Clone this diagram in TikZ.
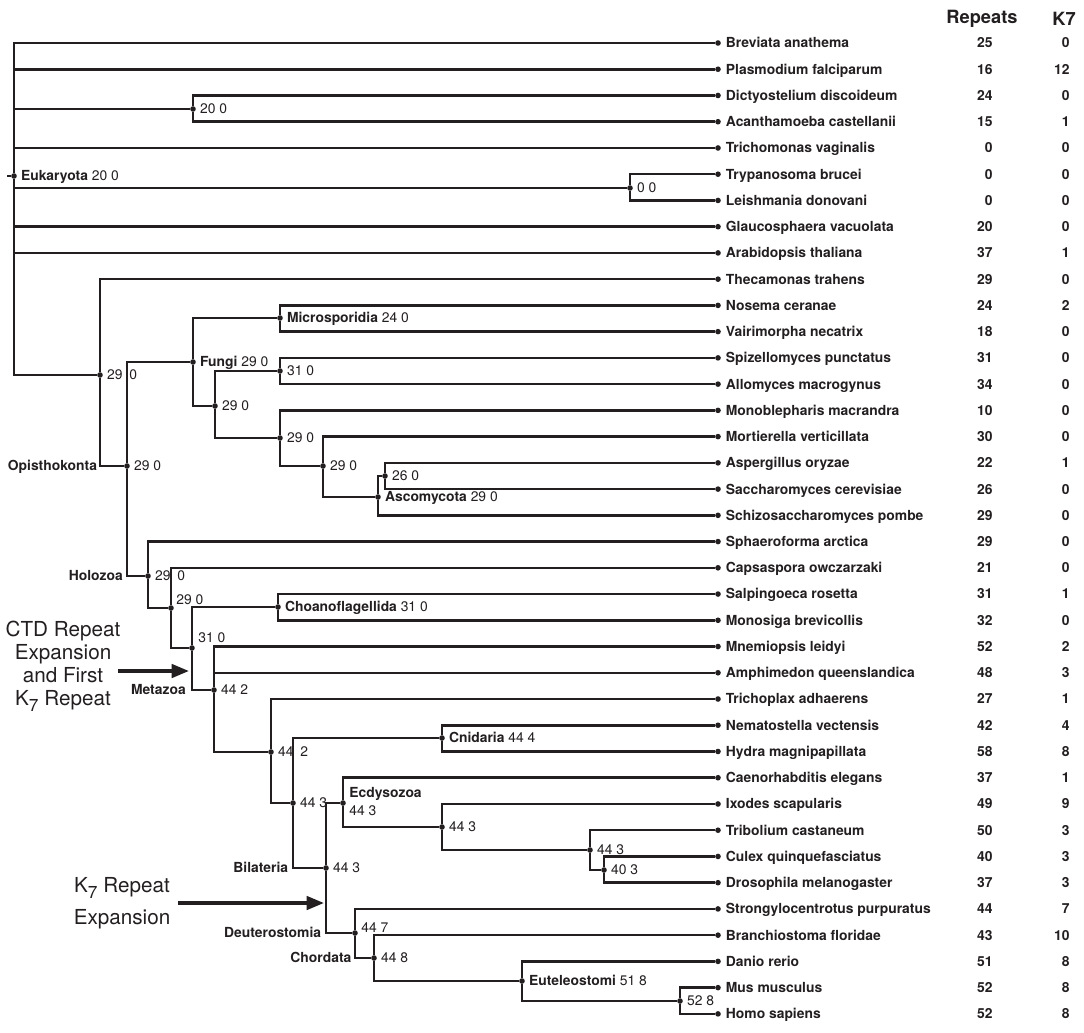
\documentclass[tikz,border=0pt]{standalone}
\usepackage{fontspec}
\setmainfont{TeX Gyre Heros}
\usetikzlibrary{positioning,arrows.meta}
\definecolor{ink}{HTML}{231F20}

\newcommand{\ksub}{K\raisebox{-0.55ex}{\fontsize{13}{13}\selectfont 7}}

\tikzset{
  branch/.style={line width=1.9pt, draw=ink},
  dot/.style={circle, fill=ink, inner sep=0pt, minimum size=4.2pt, outer sep=0pt},
  txt/.style={inner sep=0.5pt, text=ink, font=\fontsize{10.4}{13.5}\selectfont},
  lab/.style={txt, text height=7.4pt, text depth=0pt, anchor=west},
  clade/.style={lab, font=\fontsize{10.4}{13.5}\selectfont\bfseries},
  head/.style={txt, font=\fontsize{13.7}{16}\selectfont\bfseries},
  note/.style={text=ink, align=center, font=\fontsize{15.5}{17.25}\selectfont},
  bigarrow/.style={line width=2.6pt, draw=ink, -{Triangle[length=13pt,width=10pt]}},
}

\begin{document}
\begin{tikzpicture}[x=0.75pt,y=-0.75pt]
\useasboundingbox (0,0) rectangle (1084,1032);

% column heads
\node[head] (hrep) at (982,19) {Repeats};
\node[head] (hk7) at (1064,19) {K7};

% leaves
\foreach \nm/\rp/\kk [count=\i] in {Breviata anathema/25/0, Plasmodium falciparum/16/12,
  Dictyostelium discoideum/24/0, Acanthamoeba castellanii/15/1, Trichomonas vaginalis/0/0,
  Trypanosoma brucei/0/0, Leishmania donovani/0/0, Glaucosphaera vacuolata/20/0,
  Arabidopsis thaliana/37/1, Thecamonas trahens/29/0, Nosema ceranae/24/2,
  Vairimorpha necatrix/18/0, Spizellomyces punctatus/31/0, Allomyces macrogynus/34/0,
  Monoblepharis macrandra/10/0, Mortierella verticillata/30/0, Aspergillus oryzae/22/1,
  Saccharomyces cerevisiae/26/0, Schizosaccharomyces pombe/29/0, Sphaeroforma arctica/29/0,
  Capsaspora owczarzaki/21/0, Salpingoeca rosetta/31/1, Monosiga brevicollis/32/0,
  Mnemiopsis leidyi/52/2, Amphimedon queenslandica/48/3, Trichoplax adhaerens/27/1,
  Nematostella vectensis/42/4, Hydra magnipapillata/58/8, Caenorhabditis elegans/37/1,
  Ixodes scapularis/49/9, Tribolium castaneum/50/3, Culex quinquefasciatus/40/3,
  Drosophila melanogaster/37/3, Strongylocentrotus purpuratus/44/7,
  Branchiostoma floridae/43/10, Danio rerio/51/8, Mus musculus/52/8, Homo sapiens/52/8}{
  \pgfmathsetmacro\yy{43+(\i-1)*26.24}
  \node[dot] (l\i) at (718,\yy) {};
  \node[clade] (n\i) at (725,\yy) {\nm};
  \node[clade,anchor=east] (r\i) at (993.5,\yy) {\rp};
  \node[clade,anchor=east] (k\i) at (1070.5,\yy) {\kk};
}

% inner nodes
\node[dot] (euk) at (14,176) {};
\node[dot] (dic) at (193,109) {};
\node[dot] (try) at (630,188) {};
\node[dot] (oba) at (100,375) {};
\node[dot] (opi) at (127,466) {};
\node[dot] (fun) at (193,362) {};
\node[dot] (mic) at (280,318) {};
\node[dot] (fu2) at (215,406) {};
\node[dot] (blc) at (280,371) {};
\node[dot] (fu3) at (280,438) {};
\node[dot] (fu4) at (323,466) {};
\node[dot] (asc) at (378,497) {};
\node[dot] (sac) at (385,476) {};
\node[dot] (hol) at (148,576) {};
\node[dot] (fil) at (171,608) {};
\node[dot] (uni) at (192,648) {};
\node[dot] (cho) at (278,607) {};
\node[dot] (met) at (214,690) {};
\node[dot] (par) at (271,752) {};
\node[dot] (epi) at (293,803) {};
\node[dot] (cni) at (442,738) {};
\node[dot] (bil) at (326,868) {};
\node[dot] (ecd) at (343,803) {};
\node[dot] (art) at (442,827) {};
\node[dot] (pan) at (590,850) {};
\node[dot] (dip) at (604,870) {};
\node[dot] (deu) at (355,933) {};
\node[dot] (chd) at (374,958) {};
\node[dot] (eut) at (522,981) {};
\node[dot] (hom) at (680,1001) {};
\coordinate (stub) at (7,176);

% branches
\draw[branch] (stub) -- (euk);
\draw[branch] (euk) |- (l1) (euk) |- (l2) (euk) |- (dic) (euk) |- (l5)
  (euk) |- (try) (euk) |- (l8) (euk) |- (l9) (euk) |- (oba);
\draw[branch] (dic) |- (l3) (dic) |- (l4);
\draw[branch] (try) |- (l6) (try) |- (l7);
\draw[branch] (oba) |- (l10) (oba) |- (opi);
\draw[branch] (opi) |- (fun) (opi) |- (hol);
\draw[branch] (fun) |- (mic) (fun) |- (fu2);
\draw[branch] (mic) |- (l11) (mic) |- (l12);
\draw[branch] (fu2) |- (blc) (fu2) |- (fu3);
\draw[branch] (blc) |- (l13) (blc) |- (l14);
\draw[branch] (fu3) |- (l15) (fu3) |- (fu4);
\draw[branch] (fu4) |- (l16) (fu4) |- (asc);
\draw[branch] (asc) |- (sac) (asc) |- (l19);
\draw[branch] (sac) |- (l17) (sac) |- (l18);
\draw[branch] (hol) |- (l20) (hol) |- (fil);
\draw[branch] (fil) |- (l21) (fil) |- (uni);
\draw[branch] (uni) |- (cho) (uni) |- (met);
\draw[branch] (cho) |- (l22) (cho) |- (l23);
\draw[branch] (met) |- (l24) (met) |- (l25) (met) |- (par);
\draw[branch] (par) |- (l26) (par) |- (epi);
\draw[branch] (epi) |- (cni) (epi) |- (bil);
\draw[branch] (cni) |- (l27) (cni) |- (l28);
\draw[branch] (bil) |- (ecd) (bil) |- (deu);
\draw[branch] (ecd) |- (l29) (ecd) |- (art);
\draw[branch] (art) |- (l30) (art) |- (pan);
\draw[branch] (pan) |- (l31) (pan) |- (dip);
\draw[branch] (dip) |- (l32) (dip) |- (l33);
\draw[branch] (deu) |- (l34) (deu) |- (chd);
\draw[branch] (chd) |- (l35) (chd) |- (eut);
\draw[branch] (eut) |- (l36) (eut) |- (hom);
\draw[branch] (hom) |- (l37) (hom) |- (l38);

% node labels
\node[lab, right=2.5pt of euk] (eukl) {\bfseries Eukaryota\mdseries{} 20 0};
\node[lab, right=2.5pt of dic] (dicl) {20 0};
\node[lab, right=2.5pt of try] (tryl) {0 0};
\node[lab, right=2.5pt of oba] (obal) {29\enspace0};
\node[lab, right=2.5pt of opi] (opil) {29 0};
\node[lab, right=2.5pt of fun] (funl) {\bfseries Fungi\mdseries{} 29 0};
\node[lab, right=2.5pt of mic] (micl) {\bfseries Microsporidia\mdseries{} 24 0};
\node[lab, right=2.5pt of fu2] (fu2l) {29 0};
\node[lab, right=2.5pt of blc] (blcl) {31 0};
\node[lab, right=2.5pt of fu3] (fu3l) {29 0};
\node[lab, right=2.5pt of fu4] (fu4l) {29 0};
\node[lab, right=2.5pt of asc] (ascl) {\bfseries Ascomycota\mdseries{} 29 0};
\node[lab, right=2.5pt of sac] (sacl) {26 0};
\node[lab, right=2.5pt of hol] (holl) {29\enspace0};
\node[lab] (fill) at (175.5,600) {29 0};
\node[lab] (unil) at (197.5,638) {31 0};
\node[lab, right=2.5pt of cho] (chol) {\bfseries Choanoflagellida\mdseries{} 31 0};
\node[lab, right=2.5pt of met] (metl) {44 2};
\node[lab, right=2.5pt of par] (parl) {44\enspace2};
\node[lab, right=2.5pt of epi] (epil) {44 3};
\node[lab, right=2.5pt of cni] (cnil) {\bfseries Cnidaria\mdseries{} 44 4};
\node[lab, right=2.5pt of bil] (bill) {44 3};
\node[txt, anchor=west, align=left] (ecdl) at (348.5,802) {\bfseries Ecdysozoa\\44 3};
\node[lab, right=2.5pt of art] (artl) {44 3};
\node[lab, right=2.5pt of pan] (panl) {44 3};
\node[lab, right=2.5pt of dip] (dipl) {40 3};
\node[lab] (deul) at (360.5,928) {44 7};
\node[lab, right=2.5pt of chd] (chdl) {44 8};
\node[lab, right=2.5pt of eut] (eutl) {\bfseries Euteleostomi\mdseries{} 51 8};
\node[lab, right=2.5pt of hom] (homl) {52 8};

% clade names left of the branch
\node[clade, anchor=east] (opiname) at ([xshift=-1.5pt]oba |- opi) {Opisthokonta};
\node[clade, anchor=east] (holname) at ([xshift=-2.5pt]opi |- hol) {Holozoa};
\node[clade, anchor=east] (metname) at ([xshift=-4pt]uni |- met) {Metazoa};
\node[clade, anchor=east] (bilname) at ([xshift=-3pt]epi |- bil) {Bilateria};
\node[clade, anchor=east] (deuname) at ([xshift=-3pt]bil |- deu) {Deuterostomia};
\node[clade, anchor=east] (chdname) at ([xshift=-2pt]deu |- chd) {Chordata};

% events
\node[note] (ctdtxt) at (63,666) {CTD Repeat\\Expansion\\and First\\\ksub{} Repeat};
\coordinate (ctdtail) at (118,671);
\coordinate (ctdtip) at (189,671);
\draw[bigarrow] (ctdtail) -- (ctdtip);
\node[note, font=\fontsize{15.5}{24}\selectfont] (k7txt) at (122,903) {\ksub{} Repeat\\Expansion};
\coordinate (k7tail) at (178,903);
\coordinate (k7tip) at (324,903);
\draw[bigarrow] (k7tail) -- (k7tip);

\end{tikzpicture}
\end{document}
